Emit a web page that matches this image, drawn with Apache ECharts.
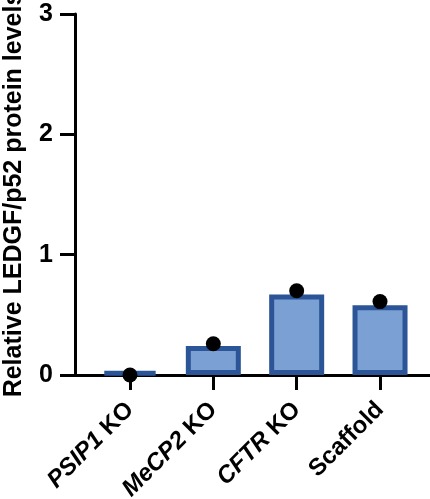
<!DOCTYPE html>
<html>
<head>
<meta charset="utf-8">
<script src="https://cdn.jsdelivr.net/npm/echarts@6/dist/echarts.min.js"></script>
<style>
  html, body { margin: 0; padding: 0; background: #ffffff; }
  #chart { width: 430px; height: 499px; }
</style>
</head>
<body>
<div id="chart"></div>
<script>
// Knockout lines and the scaffold control
const categories = ['PSIP1 KO', 'MeCP2 KO', 'CFTR KO', 'Scaffold'];
// Gene-name part of each label (set in italics); empty for the control
const geneNames = ['PSIP1', 'MeCP2', 'CFTR', ''];
// Mean relative LEDGF/p52 level (bar height)
const barValues = [0.03, 0.24, 0.67, 0.58];
// Individual replicate measurement (dot)
const pointValues = [0.0, 0.26, 0.70, 0.61];
// Y axis range and ticks
const yMin = 0;
const yMax = 3;
const yStep = 1;

const FONT = '"Liberation Sans", Arial, sans-serif';
const chart = echarts.init(document.getElementById('chart'), null, { renderer: 'canvas' });

chart.setOption({
  animation: false,
  backgroundColor: '#ffffff',
  grid: [
    { left: 88.3, right: 8.3, top: 14, bottom: 124, containLabel: false, outerBoundsMode: 'none' },
    { left: 75, right: 0, top: 14, bottom: 124, containLabel: false, outerBoundsMode: 'none' }
  ],
  xAxis: [
    {
      type: 'category',
      gridIndex: 0,
      data: categories,
      axisLine: { show: false },
      axisTick: { show: true, alignWithLabel: true, length: 15, lineStyle: { color: '#000', width: 3 } },
      axisLabel: {
        rotate: 45,
        margin: 31,
        interval: 0,
        align: 'right',
        verticalAlign: 'middle',
        formatter: function (value, idx) {
          const gene = geneNames[idx];
          if (gene) {
            return '{i|' + gene + '}{n|' + value.slice(gene.length) + '}';
          }
          return '{n|' + value + '}';
        },
        rich: {
          i: { fontFamily: FONT, fontWeight: 'bold', fontStyle: 'italic', fontSize: 24, color: '#000' },
          n: { fontFamily: FONT, fontWeight: 'bold', fontSize: 24, color: '#000' }
        }
      }
    },
    {
      // full-length baseline running under the y axis to the right edge
      type: 'value',
      gridIndex: 1,
      min: 0,
      max: 1,
      axisLine: { show: true, lineStyle: { color: '#000', width: 3 } },
      axisTick: { show: false },
      axisLabel: { show: false },
      splitLine: { show: false }
    }
  ],
  yAxis: [
    {
      type: 'value',
      gridIndex: 0,
      min: yMin,
      max: yMax,
      interval: yStep,
      offset: 13.3,
      name: 'Relative LEDGF/p52 protein levels',
      nameLocation: 'middle',
      nameGap: 48,
      nameTextStyle: { fontFamily: FONT, fontWeight: 'bold', fontSize: 25, color: '#000' },
      axisLine: { show: true, lineStyle: { color: '#000', width: 3 } },
      axisTick: { show: true, length: 15, lineStyle: { color: '#000', width: 3 } },
      axisLabel: { margin: 22, fontFamily: FONT, fontWeight: 'bold', fontSize: 25, color: '#000' },
      splitLine: { show: false }
    },
    { type: 'value', gridIndex: 1, show: false, min: 0, max: 1 }
  ],
  series: [
    {
      type: 'bar',
      xAxisIndex: 0,
      yAxisIndex: 0,
      data: barValues,
      barWidth: 55,
      itemStyle: { color: '#7ba0d4', borderColor: '#2b5596', borderWidth: 5 },
      z: 2
    },
    {
      type: 'scatter',
      xAxisIndex: 0,
      yAxisIndex: 0,
      data: pointValues,
      symbol: 'circle',
      symbolSize: 15,
      itemStyle: { color: '#000000', opacity: 1 },
      z: 5
    }
  ]
});
</script>
</body>
</html>
